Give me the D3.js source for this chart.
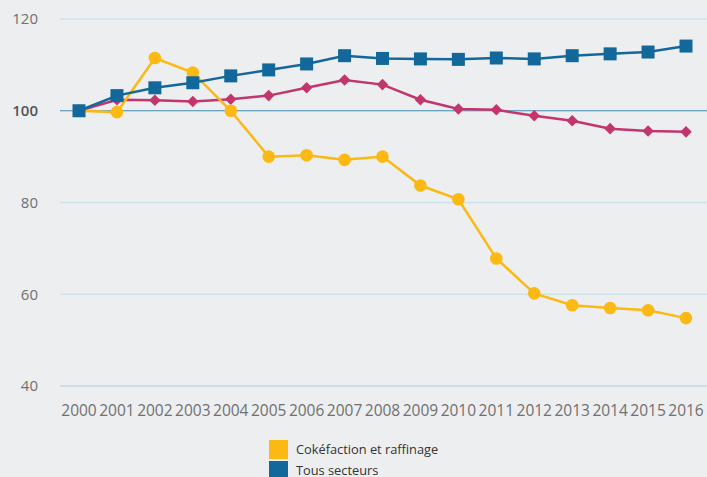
<!DOCTYPE html>
<html>
<head>
<meta charset="utf-8">
<script src="https://cdn.jsdelivr.net/npm/d3@7"></script>
<style>
  body { margin: 0; background: #eceef0; }
  svg { display: block; font-family: "Open Sans", sans-serif; }
</style>
</head>
<body>
<svg></svg>
<script>
var years = [2000, 2001, 2002, 2003, 2004, 2005, 2006, 2007, 2008, 2009, 2010, 2011, 2012, 2013, 2014, 2015, 2016];
var coke = [100, 99.7, 111.5, 108.3, 100, 90, 90.3, 89.3, 90, 83.7, 80.7, 67.8, 60.2, 57.6, 57, 56.5, 54.8];
var tous = [100, 103.3, 105, 106.1, 107.6, 108.9, 110.2, 112, 111.4, 111.3, 111.2, 111.5, 111.3, 112, 112.4, 112.8, 114.1];
var autre = [100, 102.4, 102.3, 102, 102.5, 103.3, 105, 106.7, 105.7, 102.4, 100.4, 100.2, 98.9, 97.8, 96.1, 95.6, 95.4];
var yTicks = [40, 60, 80, 100, 120];

var width = 707, height = 477;
var svg = d3.select("svg").attr("width", width).attr("height", height);

var x = d3.scalePoint().domain(years).range([79, 686]);
var y = d3.scaleLinear().domain([40, 120]).range([386, 19]);

// grid
var grid = svg.append("g");
grid.selectAll("line")
  .data(yTicks)
  .enter().append("line")
    .attr("x1", 60).attr("x2", width)
    .attr("y1", d => y(d)).attr("y2", d => y(d))
    .attr("stroke", d => d === 100 ? "#3f8bb3" : (d === 40 ? "#c6d6ee" : "#cde3ea"))
    .attr("stroke-width", d => d === 100 ? 1.2 : 1.5);

grid.selectAll("text")
  .data(yTicks)
  .enter().append("text")
    .attr("x", 38).attr("y", d => y(d))
    .attr("dy", "0.35em")
    .attr("text-anchor", "end")
    .attr("font-size", 15)
    .attr("fill", d => d === 100 ? "#555" : "#707070")
    .attr("font-weight", d => d === 100 ? 600 : 400)
    .text(d => d);

svg.append("g").selectAll("text")
  .data(years)
  .enter().append("text")
    .attr("x", d => x(d)).attr("y", 416)
    .attr("text-anchor", "middle")
    .attr("font-size", 15.5)
    .attr("fill", "#707070")
    .text(d => d);

var line = d3.line().x((d, i) => x(years[i])).y(d => y(d));

// pink series
svg.append("path").datum(autre)
  .attr("fill", "none").attr("stroke", "#c2356d").attr("stroke-width", 2.5)
  .attr("d", line);
svg.append("g").selectAll("path")
  .data(autre)
  .enter().append("path")
    .attr("transform", (d, i) => "translate(" + x(years[i]) + "," + y(d) + ")")
    .attr("d", d3.symbol().type(d3.symbolDiamond2).size(85))
    .attr("fill", "#c2356d");

// yellow series
svg.append("path").datum(coke)
  .attr("fill", "none").attr("stroke", "#fcb813").attr("stroke-width", 2.5)
  .attr("d", line);
svg.append("g").selectAll("circle")
  .data(coke)
  .enter().append("circle")
    .attr("cx", (d, i) => x(years[i])).attr("cy", d => y(d))
    .attr("r", 6.3)
    .attr("fill", "#fcb813");

// blue series
svg.append("path").datum(tous)
  .attr("fill", "none").attr("stroke", "#13689b").attr("stroke-width", 2.5)
  .attr("d", line);
svg.append("g").selectAll("rect")
  .data(tous)
  .enter().append("rect")
    .attr("x", (d, i) => x(years[i]) - 6.5).attr("y", d => y(d) - 6.5)
    .attr("width", 13).attr("height", 13)
    .attr("fill", "#13689b");

// legend (the frame cuts it after the second entry, as in the original)
var legend = [
  { name: "Cokéfaction et raffinage", color: "#fcb813" },
  { name: "Tous secteurs", color: "#13689b" }
];
var lg = svg.append("g").selectAll("g")
  .data(legend)
  .enter().append("g")
    .attr("transform", (d, i) => "translate(269," + (440 + i * 21) + ")");
lg.append("rect").attr("width", 19).attr("height", 19).attr("fill", d => d.color);
lg.append("text").attr("x", 27).attr("y", 10).attr("dy", "0.35em")
  .attr("font-size", 12.8).attr("fill", "#333").text(d => d.name);
</script>
</body>
</html>
